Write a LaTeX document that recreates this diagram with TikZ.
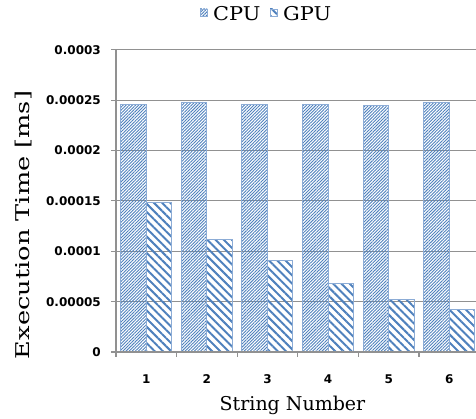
\documentclass[tikz,border=0pt]{standalone}
\usepackage{fontspec}
\setmainfont{DejaVu Serif}
\newfontfamily\ticksans{DejaVu Sans}
\newfontfamily\wideserif{DejaVu Serif}[FakeStretch=1.35]
\newfontfamily\keyserif{DejaVu Serif}[FakeStretch=1.1]
\usetikzlibrary{patterns.meta, positioning}

\definecolor{barblue}{RGB}{79,129,189}
\definecolor{barrim}{RGB}{140,172,214}
\definecolor{gridgray}{RGB}{145,145,145}

\begin{document}
\begin{tikzpicture}[
  x=1pt, y=1pt,
  every node/.style={inner sep=0pt},
  cpubar/.style={draw=barrim, line width=0.9pt,
    pattern={Lines[angle=45, distance=2.2pt, line width=0.9pt]}, pattern color=barblue},
  gpubar/.style={draw=barrim, line width=0.9pt,
    pattern={Lines[angle=-45, distance=5.8pt, line width=2pt]}, pattern color=barblue},
  gridline/.style={draw=gridgray, line width=1.1pt},
  ticklabel/.style={font=\ticksans\bfseries\fontsize{12}{13}\selectfont},
  titlelabel/.style={font=\fontsize{19}{20}\selectfont}
]

\useasboundingbox (0,0) rectangle (476,418);

% Plot frame: origin, category width, one grid step (0.00005 ms)
\def\ox{116}
\def\oy{66}
\def\xstep{60.6}
\def\ystep{50.35}
\def\bw{25.5}

% Gridlines and y ticks
\foreach \k in {1,...,6}
  \draw[gridline] (\ox, {\oy+\k*\ystep}) -- (476, {\oy+\k*\ystep});
\foreach \k in {0,...,6}
  \draw[gridline] (\ox-5, {\oy+\k*\ystep}) -- (\ox, {\oy+\k*\ystep});

% Bars: CPU / GPU heights in grid steps
\foreach \i/\c/\g in {1/4.92/2.97, 2/4.96/2.24, 3/4.92/1.81,
                      4/4.91/1.36, 5/4.89/1.05, 6/4.96/0.85} {
  \draw[cpubar] ({\ox+(\i-1)*\xstep+4.7}, \oy) rectangle ++(\bw, {\c*\ystep});
  \draw[gpubar] ({\ox+(\i-1)*\xstep+4.7+\bw}, \oy) rectangle ++(\bw, {\g*\ystep});
}

% Axes and x ticks
\draw[gridline] (\ox, \oy) -- (\ox, {\oy+6*\ystep});
\draw[gridline] (\ox-5, \oy) -- (476, \oy);
\foreach \j in {0,...,5}
  \draw[gridline] ({\ox+\j*\xstep}, \oy) -- ({\ox+\j*\xstep}, \oy-5);

% Tick labels
\foreach \k/\v in {0/0, 1/0.00005, 2/0.0001, 3/0.00015, 4/0.0002,
                   5/0.00025, 6/0.0003}
  \node (ylab\k) [ticklabel, anchor=east] at (101, {\oy+\k*\ystep}) {\v};
\foreach \i in {1,...,6}
  \node (xlab\i) [ticklabel, anchor=base] at ({\ox+(\i-0.5)*\xstep}, 35) {\i};

% Axis titles
\node (xtitle) [titlelabel, anchor=base] at (292.5, 8) {String Number};
\node (ytitle) [titlelabel, font=\wideserif\fontsize{19}{20}\selectfont,
  anchor=base, rotate=90] at (29.5, 193) {Execution Time [ms]};

% Legend
\draw[cpubar] (200, 402) rectangle (207, 409);
\node (cpukey) [font=\keyserif\fontsize{19}{20}\selectfont, anchor=base west]
  at (213, 397) {CPU};
\draw[gpubar] (270, 402) rectangle (277, 409);
\node (gpukey) [font=\keyserif\fontsize{19}{20}\selectfont, anchor=base west]
  at (283, 397) {GPU};

\end{tikzpicture}
\end{document}
